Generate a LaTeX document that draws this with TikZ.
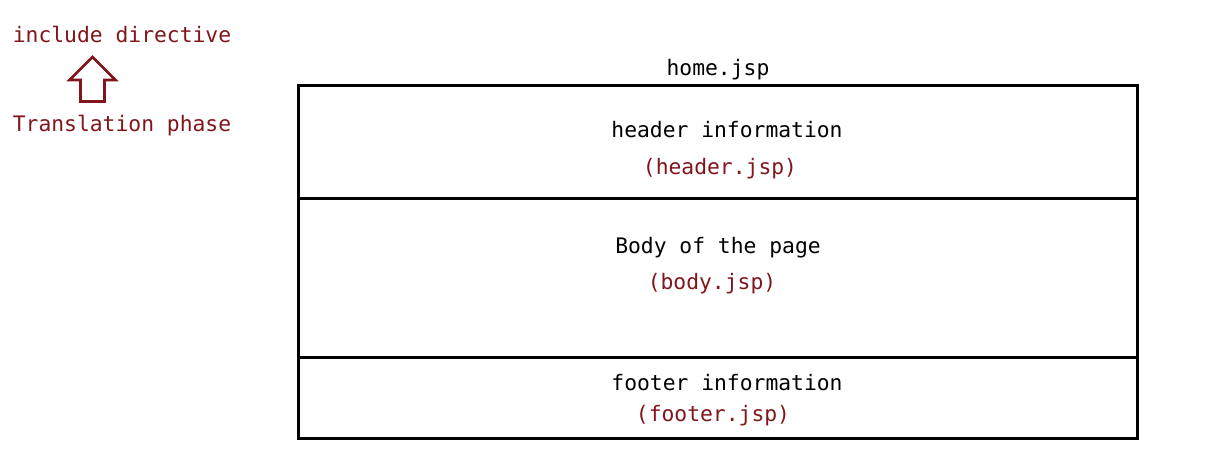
\documentclass[tikz,border=0pt]{standalone}
\usepackage{fontspec}
\setmonofont{DejaVu Sans Mono}
\definecolor{jspred}{RGB}{128,22,28}
\begin{document}
\begin{tikzpicture}[x=0.75pt,y=-0.75pt,
    label/.style={font=\ttfamily\fontsize{16}{19}\selectfont, inner sep=0pt, anchor=base},
    filename/.style={label, text=jspred}]
    \useasboundingbox (0,0) rectangle (1208,462);
    % page frame and its three parts
    \draw[line width=2.25pt] (298,85) rectangle (1137,438);
    \draw[line width=2.25pt] (298,198) -- (1137,198);
    \draw[line width=2.25pt] (298,357) -- (1137,357);
    \node[label] (home) at (718,75) {home.jsp};
    \node[label] (header) at (727,137) {header information};
    \node[filename] (headerjsp) at (720,174) {(header.jsp)};
    \node[label] (body) at (718,253) {Body of the page};
    \node[filename] (bodyjsp) at (712,289) {(body.jsp)};
    \node[label] (footer) at (727,390) {footer information};
    \node[filename] (footerjsp) at (713,421) {(footer.jsp)};
    % phase legend
    \node[filename] (directive) at (122,42) {include directive};
    \node[filename] (phase) at (122,131) {Translation phase};
    \draw[jspred, line width=1.9pt, miter limit=10]
        (92.5,57) -- (115.5,80) -- (104.5,80) -- (104.5,101.5)
        -- (80.5,101.5) -- (80.5,80) -- (69.5,80) -- cycle;
\end{tikzpicture}
\end{document}
